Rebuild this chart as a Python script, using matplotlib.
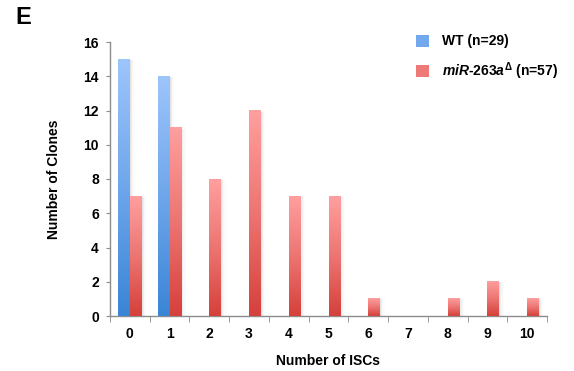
import numpy as np
import matplotlib
matplotlib.use("Agg")
import matplotlib.pyplot as plt
from matplotlib.patches import Patch, Rectangle
from matplotlib.colors import LinearSegmentedColormap

categories = ["0", "1", "2", "3", "4", "5", "6", "7", "8", "9", "10"]
wt_values = [15, 14, 0, 0, 0, 0, 0, 0, 0, 0, 0]
mir_values = [7, 11, 8, 12, 7, 7, 1, 0, 1, 2, 1]
wt_label = "WT (n=29)"
mir_label = r"$miR$-$263a^{\Delta}$ (n=57)"
y_ticks = [0, 2, 4, 6, 8, 10, 12, 14, 16]

plt.rcParams["font.family"] = ["Liberation Sans", "DejaVu Sans"]
plt.rcParams["font.weight"] = "bold"
plt.rcParams["mathtext.fontset"] = "custom"
plt.rcParams["mathtext.it"] = "Liberation Sans:italic:bold"
plt.rcParams["mathtext.rm"] = "Liberation Sans"

fig = plt.figure(figsize=(5.74, 3.71), dpi=100)
ax = fig.add_axes([110/574, 1-316/371, (547-110)/574, (316-42)/371])

blue_cmap = LinearSegmentedColormap.from_list("b", ["#3A85D6", "#6FA6EB", "#9DC5FA"])
red_cmap = LinearSegmentedColormap.from_list("r", ["#D6403A", "#EC7572", "#FF9F9F"])

x = np.arange(len(categories))
w = 0.29
grad = np.linspace(0, 1, 256).reshape(-1, 1)

def gradient_bars(xs, vals, cmap):
    bars = ax.bar(xs, vals, width=w, color="none", edgecolor="none", zorder=3)
    for b in bars:
        h = b.get_height()
        if h <= 0:
            continue
        x0 = b.get_x()
        for k, a in enumerate([0.10, 0.07, 0.04, 0.02]):
            ax.add_patch(Rectangle((x0 + w, 0), 0.03 * (k + 1), h * 0.995,
                                   facecolor="#808080", alpha=a, edgecolor="none", zorder=2))
        ax.imshow(grad, cmap=cmap, origin="lower", aspect="auto",
                  extent=(x0, x0 + w, 0, h), zorder=3, interpolation="bilinear")
    return bars

gradient_bars(x - w/2, wt_values, blue_cmap)
gradient_bars(x + w/2, mir_values, red_cmap)

ax.set_xlim(-0.5, len(categories) - 0.5)
ax.set_ylim(0, 16)
ax.set_yticks(y_ticks)
ax.set_yticklabels([str(t) for t in y_ticks], fontsize=10, fontweight="bold")
ax.set_xticks(x)
ax.set_xticklabels(categories, fontsize=10, fontweight="bold")
ax.set_xticks(np.arange(-0.5, len(categories), 1.0), minor=True)
ax.tick_params(axis="x", which="major", length=0, pad=8)
ax.tick_params(axis="x", which="minor", length=4, color="#8c8c8c", direction="out")
ax.tick_params(axis="y", length=3, color="#8c8c8c", direction="out", pad=5)

for s in ["top", "right"]:
    ax.spines[s].set_visible(False)
for s in ["left", "bottom"]:
    ax.spines[s].set_color("#8c8c8c")
    ax.spines[s].set_linewidth(1.0)

ax.set_xlabel("Number of ISCs", fontsize=10, fontweight="bold", labelpad=9)
ax.set_ylabel("Number of Clones", fontsize=10, fontweight="bold", labelpad=16)

handles = [Patch(facecolor="#72A8EC", edgecolor="none"),
           Patch(facecolor="#EE7A77", edgecolor="none")]
fig.legend(handles, [wt_label, mir_label], loc="upper left",
           bbox_to_anchor=(403/574, 1-22/371), frameon=False,
           prop={"size": 10, "weight": "bold"}, handlelength=1.0, handleheight=1.0,
           handletextpad=0.9, labelspacing=0.85)

fig.text(15/574, 1-18/371, "E", fontsize=17, fontweight="bold", va="center", ha="left")

fig.savefig("out.png", dpi=100)
